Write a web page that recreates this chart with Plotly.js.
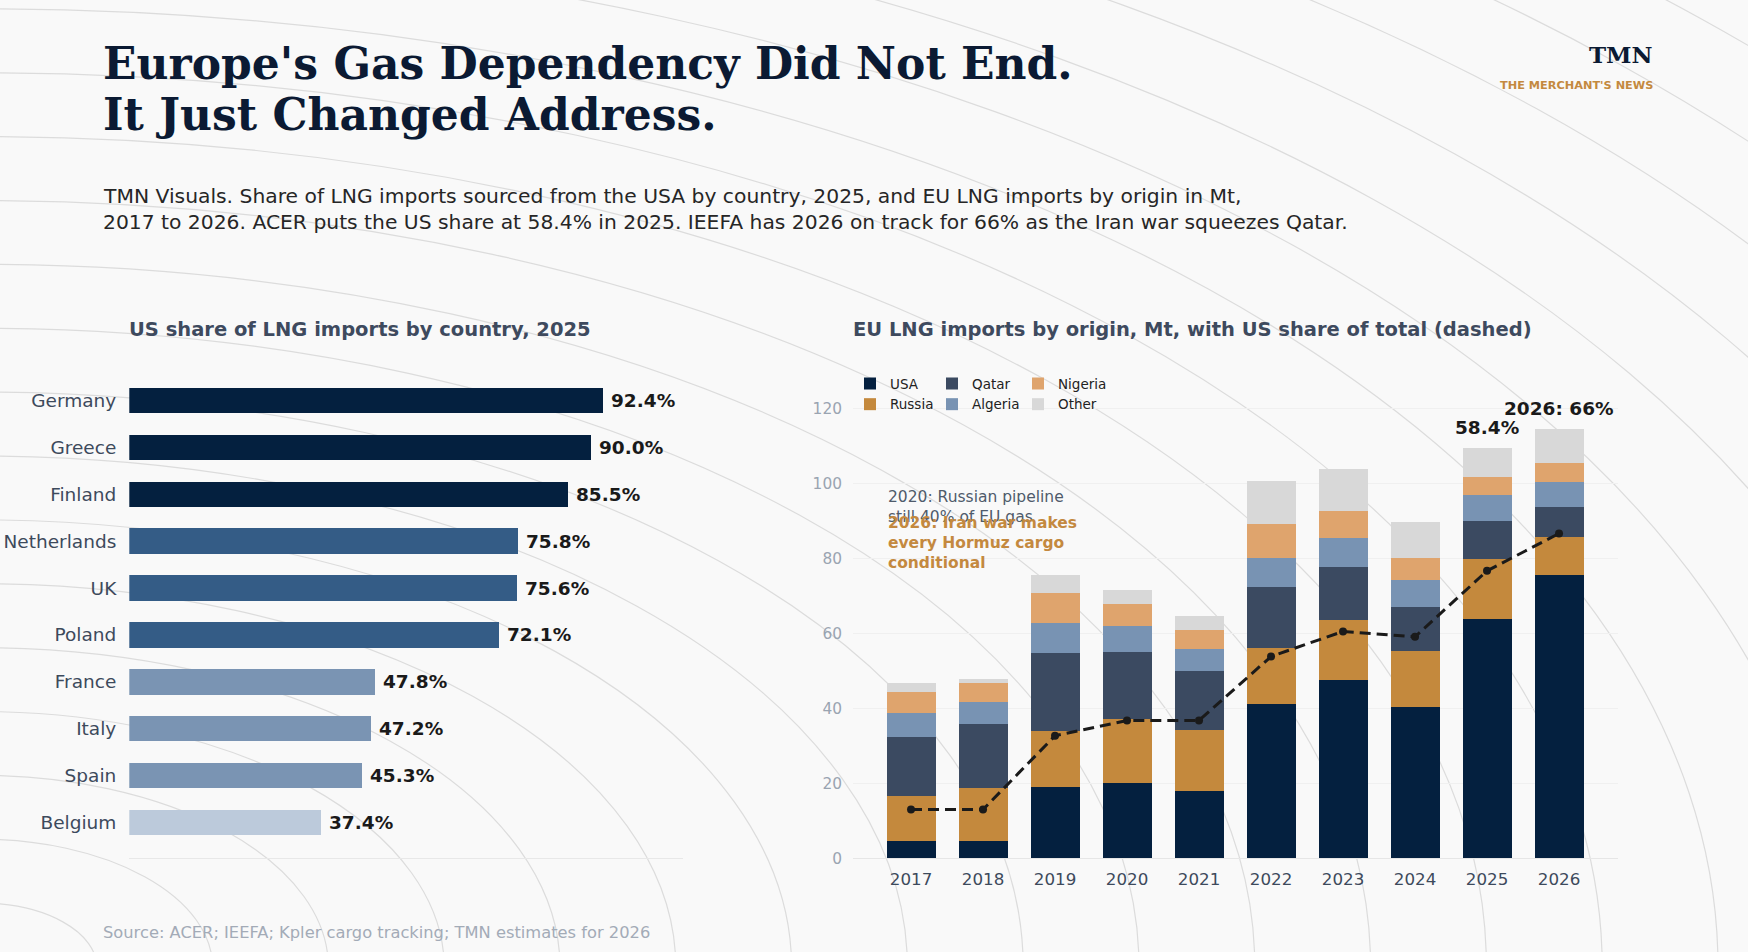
<!DOCTYPE html>
<html><head><meta charset="utf-8">
<script src="https://cdn.plot.ly/plotly-3.0.1.min.js"></script>
<style>html,body{margin:0;padding:0;background:#f9f9f9;} #chart{width:1748px;height:952px;}</style>
</head><body><div id="chart"></div>
<script>
// ---------------- DATA ----------------
const countries = ['Germany','Greece','Finland','Netherlands','UK','Poland','France','Italy','Spain','Belgium'];
const usShare2025 = [92.4, 90.0, 85.5, 75.8, 75.6, 72.1, 47.8, 47.2, 45.3, 37.4];

const years = [2017, 2018, 2019, 2020, 2021, 2022, 2023, 2024, 2025, 2026];
const usa     = [4.6, 4.7, 18.9, 20.0, 18.0, 41.1, 47.6, 40.3, 63.9, 75.5];
const russia  = [12.0, 14.1, 15.0, 17.1, 16.1, 15.1, 15.9, 15.0, 15.9, 10.1];
const qatar   = [15.8, 16.9, 20.9, 17.8, 15.8, 16.1, 14.1, 11.8, 10.1, 8.0];
const algeria = [6.3, 5.9, 8.0, 7.0, 6.0, 7.8, 7.9, 7.1, 6.9, 6.8];
const nigeria = [5.7, 5.2, 8.0, 5.9, 5.0, 9.1, 7.1, 6.0, 5.0, 4.9];
const other   = [2.3, 1.0, 4.8, 3.7, 3.7, 11.3, 11.1, 9.4, 7.7, 9.2];
const usShareOfTotal = [9.9, 9.9, 24.9, 28.0, 28.0, 41.0, 46.1, 45.0, 58.4, 66.0];

// ---------------- STYLE / LAYOUT HELPERS ----------------
const W = 1748, H = 952;
const px = x => x / W;
const py = y => 1 - y / H;
const SANS = 'DejaVu Sans, Verdana, sans-serif';
const SERIF = 'DejaVu Serif, Georgia, serif';

const C = {
  navy: '#04203f', mid: '#345c86', light: '#7a94b3', lightest: '#bccadb',
  russia: '#c4893d', qatar: '#3b4a61', algeria: '#7893b3', nigeria: '#dfa46d', other: '#d8d8d8',
  slate: '#3d4a5c', orange: '#c4893f'
};
function tierColor(v) {
  if (v >= 85) return C.navy;
  if (v >= 70) return C.mid;
  if (v >= 45) return C.light;
  return C.lightest;
}

const plotTop = 385.8, plotBottom = 858.3;
const yDom = [py(plotBottom), py(plotTop)];

// ---------------- TRACES ----------------
const traces = [];
traces.push({
  type: 'bar', orientation: 'h', x: usShare2025, y: countries,
  marker: {color: usShare2025.map(tierColor)}, width: 0.54,
  xaxis: 'x', yaxis: 'y', showlegend: false, hoverinfo: 'skip'
});

const stackSeries = [
  {name: 'USA', y: usa, color: C.navy, legend: 'legend', lw: 37},
  {name: 'Russia', y: russia, color: C.russia, legend: 'legend2', lw: 37},
  {name: 'Qatar', y: qatar, color: C.qatar, legend: 'legend', lw: 41},
  {name: 'Algeria', y: algeria, color: C.algeria, legend: 'legend2', lw: 41},
  {name: 'Nigeria', y: nigeria, color: C.nigeria, legend: 'legend', lw: 70},
  {name: 'Other', y: other, color: C.other, legend: 'legend2', lw: 70}
];
stackSeries.forEach(s => traces.push({
  type: 'bar', name: s.name, x: years, y: s.y, width: 0.68,
  marker: {color: s.color, line: {width: 0}},
  xaxis: 'x2', yaxis: 'y2', legend: s.legend, legendwidth: s.lw, hoverinfo: 'skip'
}));

traces.push({
  type: 'scatter', mode: 'lines+markers', x: years, y: usShareOfTotal,
  xaxis: 'x2', yaxis: 'y3', showlegend: false, hoverinfo: 'skip',
  line: {color: '#1a1a1a', width: 3, dash: '11px,6px'},
  marker: {color: '#1a1a1a', size: 8}
});

// ---------------- BACKGROUND ARCS ----------------
const shapes = [];
const arcCx = -0.0109, arcCy = -0.0158;
for (let k = 1; k <= 23; k++) {
  const rx = k * 0.06625, ry = k * 0.0671;
  shapes.push({
    type: 'circle', xref: 'paper', yref: 'paper', layer: 'below',
    x0: arcCx - rx, x1: arcCx + rx, y0: arcCy - ry, y1: arcCy + ry,
    line: {color: '#dcdcdc', width: 1.2}, fillcolor: 'rgba(0,0,0,0)'
  });
}

// ---------------- ANNOTATIONS ----------------
const ann = [];
function txt(text, x, y, size, color, opts) {
  const o = opts || {};
  const anchor = o.xanchor || 'left';
  const shift = anchor === 'left' ? -2.5 : (anchor === 'right' ? 2.5 : 0);
  ann.push(Object.assign({
    text: text, x: px(x + shift), y: py(y), xref: 'paper', yref: 'paper',
    xanchor: 'left', yanchor: 'middle', showarrow: false, align: 'left',
    font: {family: SANS, size: size, color: color}
  }, o));
}
txt("Europe's Gas Dependency Did Not End.", 103.7, 63.2, 44, '#0b1a33', {font: {family: SERIF, size: 44, color: '#0b1a33', weight: 700}});
txt("It Just Changed Address.", 103.7, 114.2, 44, '#0b1a33', {font: {family: SERIF, size: 44, color: '#0b1a33', weight: 700}});
txt("TMN Visuals. Share of LNG imports sourced from the USA by country, 2025, and EU LNG imports by origin in Mt,", 103.7, 196.4, 20.3, '#262626');
txt("2017 to 2026. ACER puts the US share at 58.4% in 2025. IEEFA has 2026 on track for 66% as the Iran war squeezes Qatar.", 103.7, 222, 20.3, '#262626');
txt("TMN", 1652, 54.8, 23, '#0b1a33', {xanchor: 'right', font: {family: SERIF, size: 23, color: '#0b1a33', weight: 700}});
txt("THE MERCHANT'S NEWS", 1652, 85.5, 11.3, C.orange, {xanchor: 'right', font: {family: SANS, size: 11.3, color: C.orange, weight: 700}});
txt("US share of LNG imports by country, 2025", 129.3, 329, 19.5, '#3e4a5e', {font: {family: SANS, size: 19.5, color: '#3e4a5e', weight: 700}});
txt("EU LNG imports by origin, Mt, with US share of total (dashed)", 853, 329, 19.5, '#3e4a5e', {font: {family: SANS, size: 19.5, color: '#3e4a5e', weight: 700}});
txt("Source: ACER; IEEFA; Kpler cargo tracking; TMN estimates for 2026", 103.7, 932, 16.3, '#a3abb7');
txt("2020: Russian pipeline<br>still 40% of EU gas", 888.5, 486, 15.5, '#4f5b6b', {yanchor: 'top'});
txt("2026: Iran war makes<br>every Hormuz cargo<br>conditional", 888.5, 511.7, 15.5, C.orange, {yanchor: 'top', font: {family: SANS, size: 15.5, color: C.orange, weight: 700}});

countries.forEach((c, i) => ann.push({
  xref: 'x', yref: 'y', x: usShare2025[i], y: c, text: usShare2025[i].toFixed(1) + '%',
  xanchor: 'left', yanchor: 'middle', xshift: 6, showarrow: false,
  font: {family: SANS, size: 18.5, color: '#1a1a1a', weight: 700}
}));

const totals = years.map((_, i) => usa[i] + russia[i] + qatar[i] + algeria[i] + nigeria[i] + other[i]);
[8, 9].forEach(i => ann.push({
  xref: 'x2', yref: 'y2', x: years[i], y: totals[i],
  text: (i === 9 ? years[i] + ': ' + Math.round(usShareOfTotal[i]) + '%' : usShareOfTotal[i].toFixed(1) + '%'),
  xanchor: 'center', yanchor: 'bottom', yshift: 8, showarrow: false,
  font: {family: SANS, size: 18.5, color: '#1a1a1a', weight: 700}
}));

// ---------------- LAYOUT ----------------
const legendBase = {
  orientation: 'h', x: px(850), xanchor: 'left', yanchor: 'middle',
  bgcolor: 'rgba(0,0,0,0)', borderwidth: 0, traceorder: 'normal',
  font: {family: SANS, size: 13.5, color: '#222222'}
};
const layout = {
  width: W, height: H,
  margin: {l: 0, r: 0, t: 0, b: 0, autoexpand: false},
  paper_bgcolor: '#f9f9f9', plot_bgcolor: 'rgba(0,0,0,0)',
  barmode: 'stack', showlegend: true,
  font: {family: SANS},
  legend: Object.assign({}, legendBase, {y: py(383.8)}),
  legend2: Object.assign({}, legendBase, {y: py(404.4)}),
  xaxis: {
    domain: [px(129.3), px(683.4)], range: [0, 108], anchor: 'y',
    showticklabels: false, showgrid: false, zeroline: false,
    showline: true, linecolor: '#e8e8e8', linewidth: 1, ticks: '', fixedrange: true
  },
  yaxis: {
    domain: yDom, type: 'category', categoryorder: 'array', categoryarray: countries,
    range: [9.76, -0.31], anchor: 'x', showgrid: false, zeroline: false, showline: false,
    ticks: '', ticklabelstandoff: 12, automargin: false,
    tickfont: {family: SANS, size: 18.5, color: C.slate}
  },
  xaxis2: {
    domain: [px(853), px(1618)], range: [2016.194, 2026.819], anchor: 'y2',
    tickmode: 'array', tickvals: years, ticktext: years.map(String),
    showgrid: false, zeroline: false, showline: true, linecolor: '#e6e6e6', linewidth: 1,
    ticks: '', ticklabelstandoff: 6, automargin: false,
    tickfont: {family: SANS, size: 16.7, color: C.slate}
  },
  yaxis2: {
    domain: yDom, range: [0, 126], anchor: 'x2',
    tickmode: 'array', tickvals: [0, 20, 40, 60, 80, 100, 120],
    showgrid: true, gridcolor: '#f0f0f0', gridwidth: 1, zeroline: false, showline: false,
    ticks: '', ticklabelstandoff: 10, automargin: false,
    tickfont: {family: SANS, size: 15.4, color: '#9aa4b1'}
  },
  yaxis3: {
    domain: yDom, range: [0, 96], overlaying: 'y2', anchor: 'x2', visible: false
  },
  shapes: shapes,
  annotations: ann
};

Plotly.newPlot('chart', traces, layout, {displayModeBar: false, staticPlot: true});
</script>
</body></html>
